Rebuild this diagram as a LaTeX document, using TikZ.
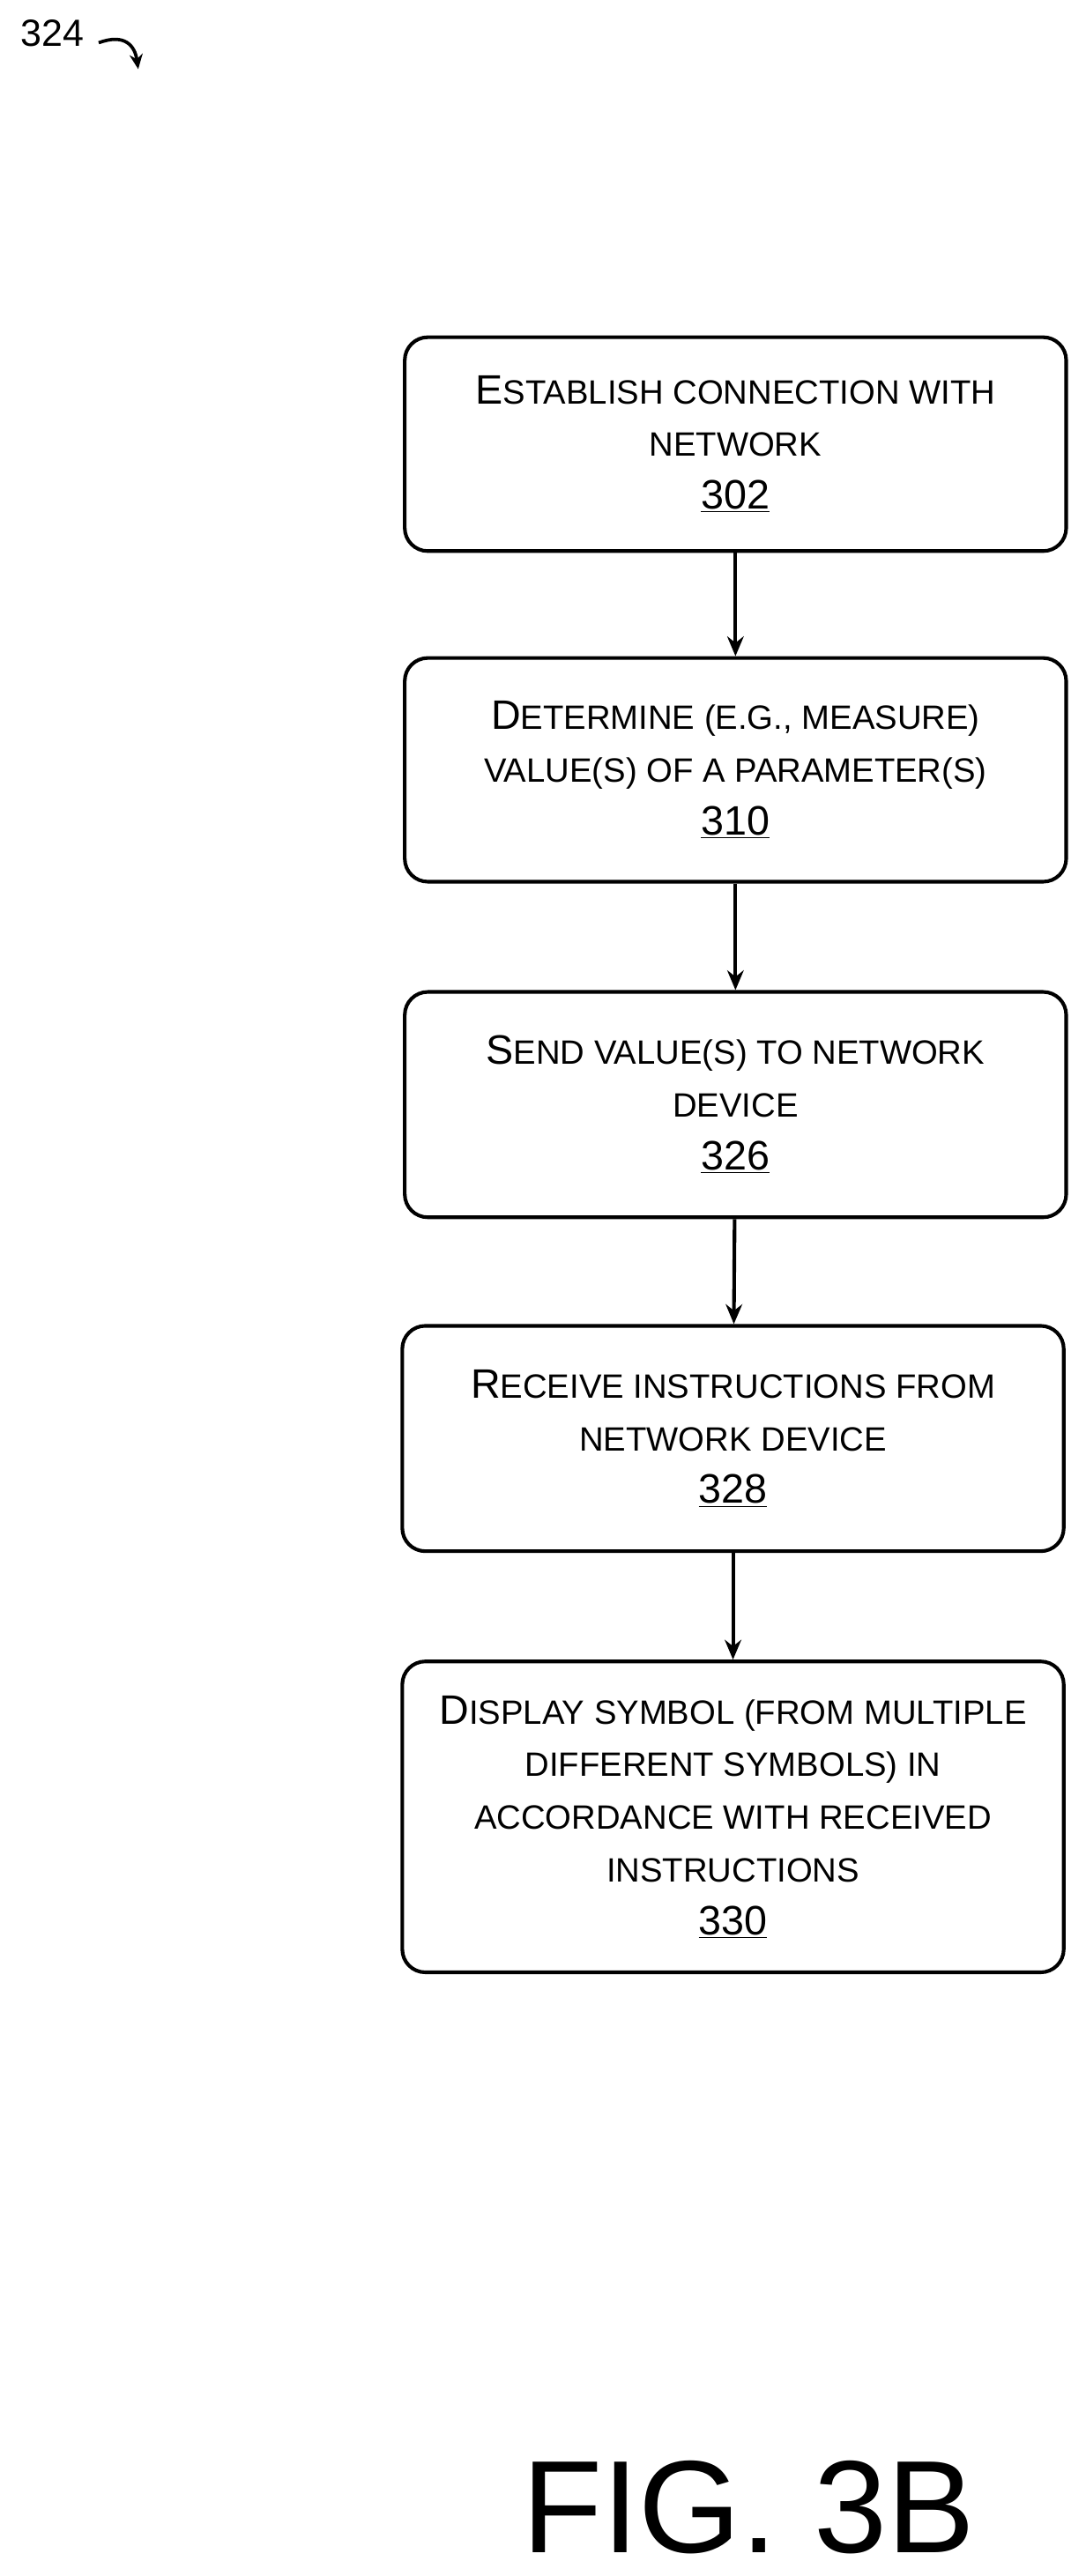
\documentclass[tikz,border=0pt]{standalone}
\usepackage{fontspec}
\setmainfont{Liberation Sans}
\usetikzlibrary{arrows.meta}
\newcommand\sm[1]{{\fontsize{20.5}{32}\selectfont\MakeUppercase{#1}}}
\begin{document}
\begin{tikzpicture}[x=1pt,y=-1pt,
  box/.style={draw,line width=2.2pt,rounded corners=14pt,minimum width=402pt,align=center,font=\fontsize{25}{32}\selectfont,inner sep=0pt},
  arr/.style={line width=2.2pt,-{Stealth[length=12pt,width=10pt]}}]
\useasboundingbox (0,0) rectangle (660,1566);
\node[box,minimum height=130pt] (b1) at (447,270) {E\sm{stablish connection with}\\\sm{network}\\\underline{302}};
\node[box,minimum height=136pt] (b2) at (447,468) {D\sm{etermine (e.g., measure)}\\\sm{value(s) of a parameter(s)}\\\underline{310}};
\node[box,minimum height=137pt] (b3) at (447,671.5) {S\sm{end value(s) to network}\\\sm{device}\\\underline{326}};
\node[box,minimum height=137pt] (b4) at (445.5,874.5) {R\sm{eceive instructions from}\\\sm{network device}\\\underline{328}};
\node[box,minimum height=189pt] (b5) at (445.5,1104.5) {D\sm{isplay symbol (from multiple}\\\sm{different symbols) in}\\\sm{accordance with received}\\\sm{instructions}\\\underline{330}};
\draw[arr] (b1) -- (b2);
\draw[arr] (b2) -- (b3);
\draw[arr] (b3) -- (b4);
\draw[arr] (b4) -- (b5);
\node[font=\fontsize{23}{26}\selectfont] (lbl) at (32,20) {324};
\coordinate (ae) at (84,42);
\draw[line width=2pt,-{Stealth[length=9pt,width=8pt]}] (60,26) .. controls (76,20) and (82,28) .. (ae);
\node[font=\fontsize{80}{82}\selectfont] (fig) at (455,1524) {FIG. 3B};
\end{tikzpicture}
\end{document}
